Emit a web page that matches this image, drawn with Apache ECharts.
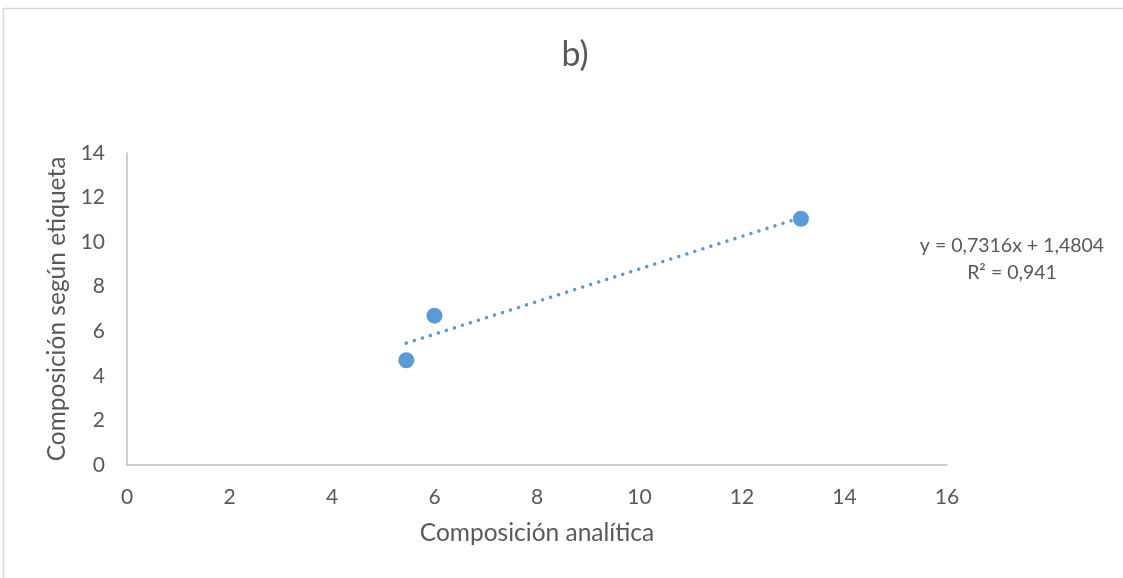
<!DOCTYPE html>
<html>
<head>
<meta charset="utf-8">
<script src="https://cdn.jsdelivr.net/npm/echarts@6/dist/echarts.min.js"></script>
<style>
  html, body { margin: 0; padding: 0; background: #ffffff; }
  #chart { width: 1123px; height: 578px; }
</style>
</head>
<body>
<div id="chart"></div>
<script>
// Measured samples: analytical composition vs. labelled composition
const analitica = [5.45, 6.0, 13.15];
const etiqueta = [4.7, 6.7, 11.05];

// Linear trend fitted to the samples
const pendiente = 0.7316;
const intercepto = 1.4804;
const r2 = 0.941;

const xTicks = { min: 0, max: 16, interval: 2 };
const yTicks = { min: 0, max: 14, interval: 2 };

const puntos = analitica.map((x, i) => [x, etiqueta[i]]);
const xMin = Math.min(...analitica);
const xMax = Math.max(...analitica);
const tendencia = [xMin, xMax].map(x => [x, pendiente * x + intercepto]);

const fmt = (v, d) => v.toFixed(d).replace('.', ',');
const FONT = 'Lato, "Open Sans", sans-serif';
const GREY = '#595959';
const BLUE = '#5b9bd5';

const chart = echarts.init(document.getElementById('chart'), null, { renderer: 'canvas' });
chart.setOption({
  animation: false,
  backgroundColor: '#ffffff',
  title: {
    text: 'b)',
    left: 570,
    top: 33,
    textAlign: 'center',
    textStyle: { fontFamily: FONT, fontSize: 34, fontWeight: 'normal', color: GREY }
  },
  grid: { left: 127, right: 176, top: 153, bottom: 113, containLabel: false },
  xAxis: {
    type: 'value',
    min: xTicks.min, max: xTicks.max, interval: xTicks.interval,
    name: 'Composición analítica',
    nameLocation: 'middle',
    nameGap: 56,
    nameTextStyle: { fontFamily: FONT, fontSize: 24.5, color: GREY },
    axisLine: { show: true, lineStyle: { color: '#bfbfbf', width: 1.5 } },
    axisTick: { show: false },
    splitLine: { show: false },
    axisLabel: { fontFamily: FONT, fontSize: 21, color: GREY, margin: 22 }
  },
  yAxis: {
    type: 'value',
    min: yTicks.min, max: yTicks.max, interval: yTicks.interval,
    name: 'Composición según etiqueta',
    nameLocation: 'middle',
    nameGap: 56,
    nameTextStyle: { fontFamily: FONT, fontSize: 24.5, color: GREY },
    axisLine: { show: true, lineStyle: { color: '#bfbfbf', width: 1.5 } },
    axisTick: { show: false },
    splitLine: { show: false },
    axisLabel: { fontFamily: FONT, fontSize: 21, color: GREY, margin: 22 }
  },
  series: [
    {
      type: 'line',
      data: tendencia,
      symbol: 'none',
      lineStyle: { color: BLUE, width: 3.5, type: [0.01, 8.4], cap: 'round' },
      silent: true,
      z: 1
    },
    {
      type: 'scatter',
      data: puntos,
      symbol: 'circle',
      symbolSize: 16,
      itemStyle: { color: BLUE, opacity: 1 },
      z: 2
    }
  ],
  graphic: [
    {
      type: 'rect',
      shape: { x: 3.5, y: 8.5, width: 1300, height: 700 },
      style: { fill: 'none', stroke: '#d9d9d9', lineWidth: 1.5 },
      silent: true
    },
    {
      type: 'text',
      x: 1012,
      y: 259,
      style: {
        text: 'y = ' + fmt(pendiente, 4) + 'x + ' + fmt(intercepto, 4) + '\nR² = ' + fmt(r2, 3),
        align: 'center',
        verticalAlign: 'middle',
        lineHeight: 27,
        fontFamily: FONT,
        fontSize: 19.5,
        fill: GREY
      }
    }
  ]
});
</script>
</body>
</html>
